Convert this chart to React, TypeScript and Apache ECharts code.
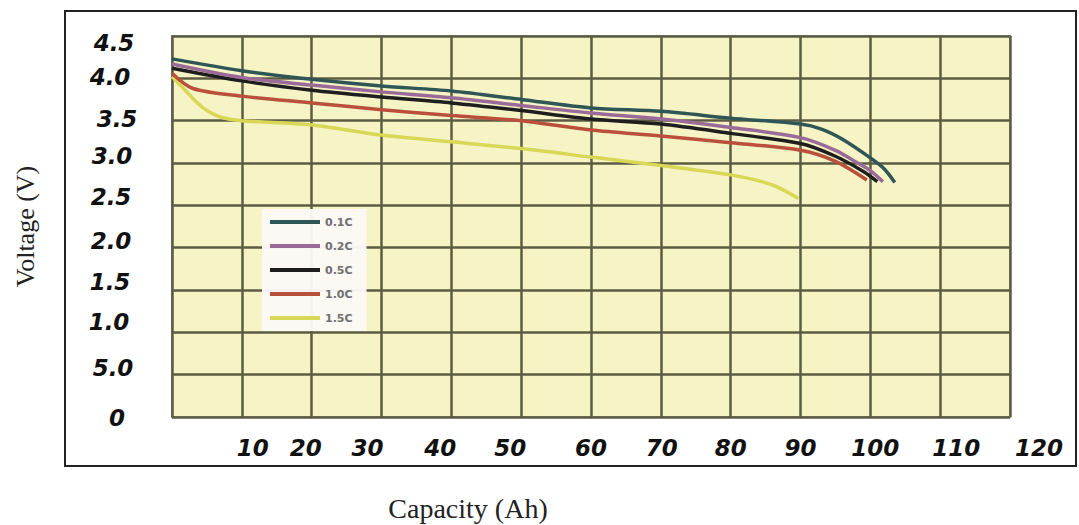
import React, { useEffect, useRef } from "react";
import * as echarts from "echarts";

// ---- data ----
const seriesNames = ["0.1C", "0.2C", "0.5C", "1.0C", "1.5C"];

const cap01 = [0, 10, 20, 30, 40, 50, 60, 70, 80, 90, 93, 96, 100, 102, 103.5];
const volt01 = [4.23, 4.09, 3.99, 3.91, 3.85, 3.75, 3.65, 3.61, 3.53, 3.46, 3.40, 3.28, 3.06, 2.93, 2.77];

const cap02 = [0, 10, 20, 30, 40, 50, 60, 70, 80, 90, 95, 98, 100, 101.8];
const volt02 = [4.17, 4.01, 3.92, 3.84, 3.77, 3.68, 3.59, 3.52, 3.42, 3.30, 3.15, 3.01, 2.91, 2.78];

const cap05 = [0, 10, 20, 30, 40, 50, 60, 70, 80, 90, 95, 99, 101];
const volt05 = [4.12, 3.97, 3.86, 3.78, 3.71, 3.62, 3.52, 3.46, 3.35, 3.23, 3.08, 2.90, 2.78];

const cap10 = [0, 3, 10, 20, 30, 40, 50, 60, 70, 80, 90, 95, 99.5];
const volt10 = [4.06, 3.88, 3.79, 3.71, 3.63, 3.56, 3.50, 3.39, 3.32, 3.24, 3.15, 3.02, 2.80];

const cap15 = [0, 2, 3.5, 5, 7, 10, 20, 30, 40, 50, 60, 70, 80, 86, 89.7];
const volt15 = [4.02, 3.85, 3.72, 3.62, 3.54, 3.50, 3.45, 3.33, 3.25, 3.17, 3.07, 2.97, 2.86, 2.74, 2.58];

const xTickLabels = ["", "10", "20", "30", "40", "50", "60", "70", "80", "90", "100", "110", "120"];
const yTickLabels = ["0", "5.0", "1.0", "1.5", "2.0", "2.5", "3.0", "3.5", "4.0", "4.5"];

// ---- styling (not data) ----
const seriesColors = ["#2f5656", "#9a6a98", "#1e1e1e", "#b9503c", "#d9d756"];
const xLabelShift = [0, 11, -6, -14, -11, -11, 0, 1, 0, 0, 5, 16, 29];
const yLabelShift = [1, -7, -10, -8, -7, -8, -7, -2, -1, 7];
const yLabelXShift = [5, 1, -3, -2, -1, -1, 0, 5, -2, 2];

const tickFont = {
  fontFamily: "DejaVu Sans",
  fontWeight: "bold" as const,
  fontStyle: "italic" as const,
  fontSize: 23,
  color: "#111",
};

function zip(xs: number[], ys: number[]) {
  return xs.map((x, i) => [x, ys[i]]);
}

export default function App() {
  const ref = useRef<HTMLDivElement>(null);

  useEffect(() => {
    if (!ref.current) return;
    const chart = echarts.init(ref.current, undefined, { renderer: "svg" });

    const xRich: Record<string, any> = {};
    xTickLabels.forEach((_, i) => {
      const d = xLabelShift[i];
      xRich["x" + i] = {
        ...tickFont,
        padding: [0, d < 0 ? -2 * d : 0, 0, d > 0 ? 2 * d : 0],
      };
    });
    const yRich: Record<string, any> = {};
    yTickLabels.forEach((_, i) => {
      const d = yLabelShift[i];
      const h = yLabelXShift[i];
      yRich["y" + i] = {
        ...tickFont,
        padding: [d > 0 ? 2 * d : 0, h < 0 ? -2 * h : 0, d < 0 ? -2 * d : 0, h > 0 ? 2 * h : 0],
      };
    });

    const datasets = [zip(cap01, volt01), zip(cap02, volt02), zip(cap05, volt05), zip(cap10, volt10), zip(cap15, volt15)];

    chart.setOption({
      animation: false,
      backgroundColor: "#ffffff",
      grid: {
        left: 172,
        right: 69,
        top: 36,
        bottom: 108,
        show: true,
        backgroundColor: "#f6f3c4",
        borderColor: "#7d8b8b",
        borderWidth: 2,
        outerBoundsMode: "none",
      },
      legend: {
        data: seriesNames,
        orient: "vertical",
        left: 262,
        top: 209,
        icon: "rect",
        itemWidth: 50,
        itemHeight: 4,
        itemGap: 10,
        padding: [6, 14, 6, 8],
        backgroundColor: "rgba(252,248,246,0.96)",
        textStyle: {
          fontFamily: "DejaVu Sans",
          fontWeight: "bold",
          fontSize: 11,
          color: "#707070",
          lineHeight: 14,
        },
      },
      xAxis: {
        type: "value",
        min: 0,
        max: 120,
        interval: 10,
        axisLine: { show: false },
        axisTick: { show: false },
        splitLine: { show: true, lineStyle: { color: "#5c5c42", width: 2.5 } },
        axisLabel: {
          showMinLabel: true,
          showMaxLabel: true,
          margin: 31,
          verticalAlign: "middle",
          formatter: (v: number) => {
            const i = Math.round(v / 10);
            return xTickLabels[i] ? `{x${i}|${xTickLabels[i]}}` : "";
          },
          rich: xRich,
        },
      },
      yAxis: {
        type: "value",
        min: 0,
        max: 4.5,
        interval: 0.5,
        name: "Voltage (V)",
        nameLocation: "middle",
        nameRotate: 90,
        nameGap: 134,
        nameTextStyle: {
          fontFamily: "Liberation Serif",
          fontSize: 26,
          color: "#222",
        },
        axisLine: { show: false },
        axisTick: { show: false },
        splitLine: { show: true, lineStyle: { color: "#5c5c42", width: 2.5 } },
        axisLabel: {
          showMinLabel: true,
          showMaxLabel: true,
          margin: 60,
          align: "center",
          verticalAlign: "middle",
          formatter: (v: number) => {
            const i = Math.round(v / 0.5);
            return `{y${i}|${yTickLabels[i]}}`;
          },
          rich: yRich,
        },
      },
      graphic: [
        {
          type: "rect",
          shape: { x: 65, y: 11, width: 1011, height: 455 },
          style: { fill: "none", stroke: "#222", lineWidth: 2 },
          silent: true,
        },
        {
          type: "text",
          x: 468,
          y: 508,
          style: {
            text: "Capacity (Ah)",
            fontFamily: "Liberation Serif",
            fontSize: 28,
            fill: "#222",
            align: "center",
            verticalAlign: "middle",
          },
          silent: true,
        },
      ],
      series: seriesNames.map((name, i) => ({
        name,
        type: "line",
        data: datasets[i],
        color: seriesColors[i],
        showSymbol: false,
        smooth: 0.3,
        lineStyle: { width: 3.5, color: seriesColors[i] },
        z: 2 + (seriesNames.length - i),
      })),
    });

    return () => chart.dispose();
  }, []);

  return (
    <div
      ref={ref}
      style={{ position: "fixed", left: 0, top: 0, width: 1079, height: 525 }}
    />
  );
}
